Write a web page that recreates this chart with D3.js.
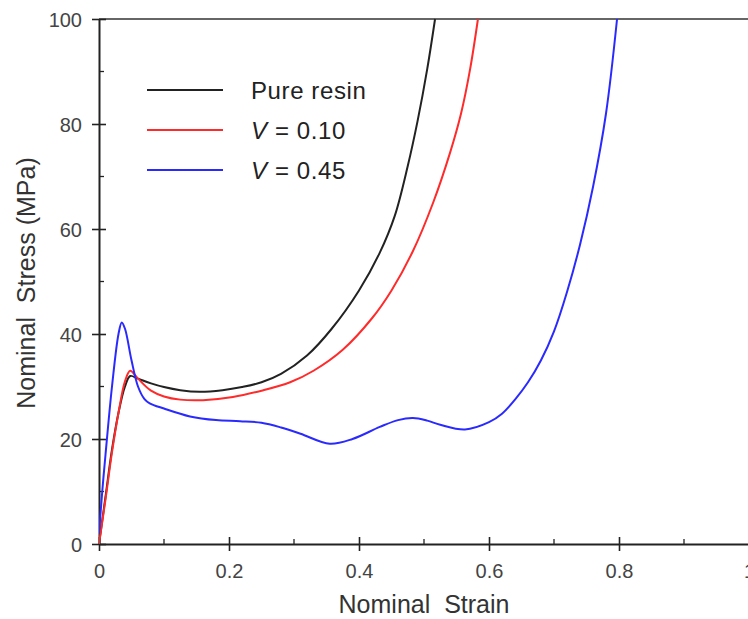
<!DOCTYPE html>
<html>
<head>
<meta charset="utf-8">
<script src="https://cdn.jsdelivr.net/npm/d3@7"></script>
<style>
body { margin: 0; background: #fff; }
text { font-family: "Liberation Sans", Arial, sans-serif; }
</style>
</head>
<body>
<div id="chart"></div>
<script>
// strain / stress pairs
var pureStrain = [0, 0.01, 0.02, 0.03, 0.04, 0.048, 0.06, 0.08, 0.1, 0.125, 0.155, 0.19, 0.22, 0.25, 0.28, 0.32, 0.358, 0.4, 0.432, 0.455, 0.475, 0.49, 0.505, 0.517];
var pureStress = [0, 9, 18, 25, 30, 32, 31.5, 30.6, 29.9, 29.3, 29.0, 29.3, 29.9, 30.8, 32.4, 35.9, 41, 48.3, 55.5, 62.5, 72, 80.5, 90.5, 100];

var v10Strain = [0, 0.01, 0.02, 0.03, 0.04, 0.048, 0.06, 0.08, 0.1, 0.125, 0.16, 0.206, 0.25, 0.294, 0.33, 0.375, 0.42, 0.45, 0.483, 0.514, 0.54, 0.557, 0.571, 0.583];
var v10Stress = [0, 8.5, 17.5, 25, 31, 33, 31.5, 29.2, 28.1, 27.5, 27.4, 28, 29.2, 30.8, 33, 37, 43, 48.3, 55.8, 65, 74.5, 82, 90.5, 100];

var v45Strain = [0, 0.005, 0.01, 0.02, 0.03, 0.035, 0.04, 0.05, 0.06, 0.07, 0.078, 0.1, 0.14, 0.18, 0.217, 0.25, 0.28, 0.31, 0.355, 0.39, 0.432, 0.46, 0.483, 0.505, 0.525, 0.563, 0.6, 0.62, 0.64, 0.66, 0.68, 0.7, 0.72, 0.74, 0.76, 0.78, 0.797];
var v45Stress = [2, 10, 17, 30, 40, 42.2, 41, 35, 30, 27.6, 26.8, 25.8, 24.3, 23.6, 23.4, 23.1, 22.2, 21, 19.1, 20, 22.3, 23.6, 24, 23.5, 22.7, 21.8, 23.2, 24.8, 27.5, 30.8, 35, 40.5, 48, 57, 68, 82, 100];

var seriesNames = ["Pure resin", "V = 0.10", "V = 0.45"];
var seriesColors = ["#222222", "#ff2a2a", "#2a2aff"];

var xTicks = [0, 0.2, 0.4, 0.6, 0.8, 1];
var xMinor = [0.1, 0.3, 0.5, 0.7, 0.9];
var yTicks = [0, 20, 40, 60, 80, 100];
var yMinor = [10, 30, 50, 70, 90];

var width = 748, height = 619;
var margin = { top: 19, right: -1, bottom: 75, left: 99 };
var plotW = width - margin.left - margin.right;
var plotH = height - margin.top - margin.bottom;

var svg = d3.select("#chart").append("svg")
    .attr("width", width)
    .attr("height", height);

var g = svg.append("g").attr("transform", "translate(" + margin.left + "," + margin.top + ")");

var x = d3.scaleLinear().domain([0, 1]).range([0, plotW]);
var y = d3.scaleLinear().domain([0, 100]).range([plotH, 0]);

// frame (top / right)
g.append("line").attr("x1", 0).attr("x2", plotW).attr("y1", 0).attr("y2", 0)
    .attr("stroke", "#666").attr("stroke-width", 2);
g.append("line").attr("x1", plotW).attr("x2", plotW).attr("y1", 0).attr("y2", plotH)
    .attr("stroke", "#666").attr("stroke-width", 2);

// minor ticks, inside only
g.append("g").selectAll("line").data(xMinor).enter().append("line")
    .attr("x1", d => x(d)).attr("x2", d => x(d))
    .attr("y1", plotH).attr("y2", plotH - 5)
    .attr("stroke", "#222").attr("stroke-width", 1.3);
g.append("g").selectAll("line").data(yMinor).enter().append("line")
    .attr("x1", 0).attr("x2", 5)
    .attr("y1", d => y(d)).attr("y2", d => y(d))
    .attr("stroke", "#222").attr("stroke-width", 1.3);

// axes, major ticks cross the line
var xAxis = g.append("g")
    .attr("transform", "translate(0," + plotH + ")")
    .call(d3.axisBottom(x).tickValues(xTicks).tickSize(7).tickPadding(12).tickSizeOuter(0).tickFormat(d3.format("~g")));
xAxis.selectAll(".tick line").attr("y1", -7);
var yAxis = g.append("g")
    .call(d3.axisLeft(y).tickValues(yTicks).tickSize(7).tickPadding(10).tickSizeOuter(0));
yAxis.selectAll(".tick line").attr("x1", 7);

[xAxis, yAxis].forEach(function (a) {
    a.select(".domain").attr("stroke", "#222").attr("stroke-width", 2);
    a.selectAll(".tick line").attr("stroke", "#222").attr("stroke-width", 1.6);
    a.selectAll(".tick text").attr("font-size", 20).attr("fill", "#444")
        .style("font-family", "'Liberation Sans', Arial, sans-serif");
});
xAxis.selectAll(".tick text").attr("dy", "0.75em");
yAxis.selectAll(".tick text").attr("dy", "0.35em");

// curves
svg.append("defs").append("clipPath").attr("id", "clip")
    .append("rect").attr("y", -2).attr("width", plotW).attr("height", plotH + 2);

var line = d3.line()
    .x(d => x(d[0]))
    .y(d => y(d[1]))
    .curve(d3.curveCatmullRom.alpha(0.5));

var curves = [
    d3.zip(pureStrain, pureStress),
    d3.zip(v10Strain, v10Stress),
    d3.zip(v45Strain, v45Stress)
];

g.append("g").attr("clip-path", "url(#clip)")
    .selectAll("path").data(curves).enter().append("path")
    .attr("d", line)
    .attr("fill", "none")
    .attr("stroke", (d, i) => seriesColors[i])
    .attr("stroke-width", 2);

// legend
var legend = svg.append("g").selectAll("g").data(seriesNames).enter().append("g")
    .attr("transform", (d, i) => "translate(147," + (90 + i * 40) + ")");
legend.append("line").attr("x1", 0).attr("x2", 76)
    .attr("stroke", (d, i) => seriesColors[i]).attr("stroke-width", 2);
legend.each(function (d) {
    var t = d3.select(this).append("text").attr("x", 104).attr("dy", "0.36em")
        .attr("font-size", 24).attr("fill", "#222")
        .style("letter-spacing", "0.6px").style("white-space", "pre");
    if (d.indexOf("V") === 0) {
        t.append("tspan").attr("font-style", "italic").text("V");
        t.append("tspan").text(d.slice(1));
    } else {
        t.text(d);
    }
});

// axis titles
svg.append("text")
    .attr("x", 424).attr("y", 613)
    .attr("text-anchor", "middle").attr("font-size", 25).attr("fill", "#333")
    .style("white-space", "pre")
    .text("Nominal  Strain");
svg.append("text")
    .attr("transform", "translate(35,283) rotate(-90)")
    .attr("text-anchor", "middle").attr("font-size", 25).attr("fill", "#333")
    .style("white-space", "pre")
    .text("Nominal  Stress (MPa)");
</script>
</body>
</html>
